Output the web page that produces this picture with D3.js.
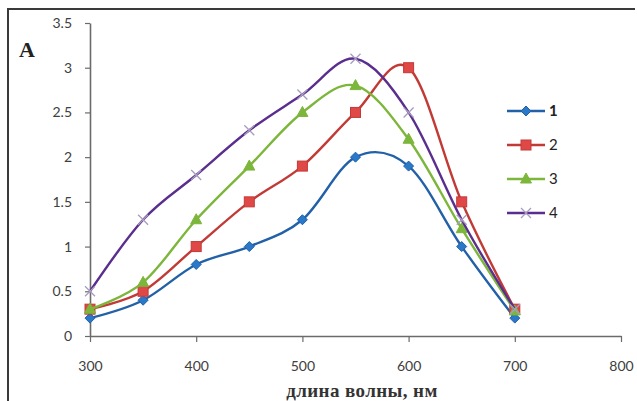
<!DOCTYPE html>
<html>
<head>
<meta charset="utf-8">
<script src="https://cdn.jsdelivr.net/npm/d3@7"></script>
<style>
  body { margin: 0; background: #fff; }
  svg { display: block; }
</style>
</head>
<body>
<div id="chart"></div>
<script>
// wavelengths, nm
const wavelengths = [300, 350, 400, 450, 500, 550, 600, 650, 700];
const series1 = [0.2, 0.4, 0.8, 1.0, 1.3, 2.0, 1.9, 1.0, 0.2];
const series2 = [0.3, 0.5, 1.0, 1.5, 1.9, 2.5, 3.0, 1.5, 0.3];
const series3 = [0.3, 0.6, 1.3, 1.9, 2.5, 2.8, 2.2, 1.2, 0.28];
const series4 = [0.5, 1.3, 1.8, 2.3, 2.7, 3.1, 2.5, 1.3, 0.3];
const seriesNames = ["1", "2", "3", "4"];
const xTicks = [300, 400, 500, 600, 700, 800];
const yTicks = [0, 0.5, 1, 1.5, 2, 2.5, 3, 3.5];

const W = 637, H = 401;

const svg = d3.select("#chart")
    .append("svg")
    .attr("width", W)
    .attr("height", H);

// frame (only left and top edges visible)
svg.append("path")
    .attr("d", "M8,401 L8,9 L635,9")
    .attr("fill", "none")
    .attr("stroke", "#3a3a3a")
    .attr("stroke-width", 2);

const x = d3.scaleLinear().domain([300, 800]).range([90, 621]);
const y = d3.scaleLinear().domain([0, 3.5]).range([336, 23]);

const axisColor = "#6b6b6b";
const textColor = "#404040";
const tickFont = "Lato, 'Open Sans', sans-serif";

const gx = svg.append("g")
    .attr("transform", `translate(0,${y(0)})`)
    .call(d3.axisBottom(x).tickValues(xTicks).tickSize(6).tickPadding(19).tickSizeOuter(0));

const gy = svg.append("g")
    .attr("transform", `translate(${x(300)},0)`)
    .call(d3.axisLeft(y).tickValues(yTicks).tickSize(5).tickPadding(13).tickSizeOuter(0)
        .tickFormat(d => String(d)));

[gx, gy].forEach(g => {
    g.select(".domain").attr("stroke", axisColor).attr("stroke-width", 1.6);
    g.selectAll(".tick line").attr("stroke", axisColor).attr("stroke-width", 1.2);
    g.selectAll(".tick text")
        .attr("fill", textColor)
        .style("font-family", tickFont)
        .style("font-size", "14px");
});

// panel letter
svg.append("text")
    .attr("x", 19)
    .attr("y", 57)
    .style("font-family", "'Liberation Serif', 'DejaVu Serif', serif")
    .style("font-weight", "bold")
    .style("font-size", "22px")
    .attr("fill", "#222")
    .text("A");

// axis title
svg.append("text")
    .attr("x", 362)
    .attr("y", 397)
    .attr("text-anchor", "middle")
    .style("font-family", "'Liberation Serif', 'DejaVu Serif', serif")
    .style("font-weight", "bold")
    .style("font-size", "19px")
    .style("letter-spacing", "0.4px")
    .attr("fill", "#333")
    .text("длина волны, нм");

const allSeries = [
    { name: seriesNames[0], values: series1, line: "#2260a8", fill: "#2a78c8", marker: "diamond" },
    { name: seriesNames[1], values: series2, line: "#c23a36", fill: "#e04848", marker: "square" },
    { name: seriesNames[2], values: series3, line: "#7cb63a", fill: "#7cb63a", marker: "triangle" },
    { name: seriesNames[3], values: series4, line: "#5a2e8e", fill: "#a89cc0", marker: "cross" }
];

const line = d3.line()
    .x((d, i) => x(wavelengths[i]))
    .y(d => y(d))
    .curve(d3.curveCardinal.tension(0));

function drawMarker(g, type, cx, cy, s) {
    if (type === "diamond") {
        g.append("path")
            .attr("d", `M${cx},${cy - 5} L${cx + 5},${cy} L${cx},${cy + 5} L${cx - 5},${cy} Z`)
            .attr("fill", s.fill).attr("stroke", s.line).attr("stroke-width", 1);
    } else if (type === "square") {
        g.append("rect")
            .attr("x", cx - 5).attr("y", cy - 5).attr("width", 10).attr("height", 10)
            .attr("fill", s.fill).attr("stroke", s.line).attr("stroke-width", 1);
    } else if (type === "triangle") {
        g.append("path")
            .attr("d", `M${cx},${cy - 6} L${cx + 5.5},${cy + 4} L${cx - 5.5},${cy + 4} Z`)
            .attr("fill", s.fill).attr("stroke", s.line).attr("stroke-width", 1);
    } else {
        g.append("path")
            .attr("d", `M${cx - 5},${cy - 5} L${cx + 5},${cy + 5} M${cx + 5},${cy - 5} L${cx - 5},${cy + 5}`)
            .attr("fill", "none").attr("stroke", s.fill).attr("stroke-width", 1.3);
    }
}

allSeries.forEach(s => {
    const g = svg.append("g");
    g.append("path")
        .datum(s.values)
        .attr("fill", "none")
        .attr("stroke", s.line)
        .attr("stroke-width", 2.4)
        .attr("d", line);
    s.values.forEach((v, i) => drawMarker(g, s.marker, x(wavelengths[i]), y(v), s));
});

// legend
const legend = svg.append("g");
allSeries.forEach((s, i) => {
    const ly = 111 + i * 34;
    legend.append("line")
        .attr("x1", 507).attr("x2", 545)
        .attr("y1", ly).attr("y2", ly)
        .attr("stroke", s.line).attr("stroke-width", 2.4);
    drawMarker(legend, s.marker, 526, ly, s);
    legend.append("text")
        .attr("x", 549)
        .attr("y", ly + 5)
        .style("font-family", tickFont)
        .style("font-size", "15px")
        .style("font-weight", i === 0 ? "bold" : "normal")
        .attr("fill", "#222")
        .text(s.name);
});
</script>
</body>
</html>
